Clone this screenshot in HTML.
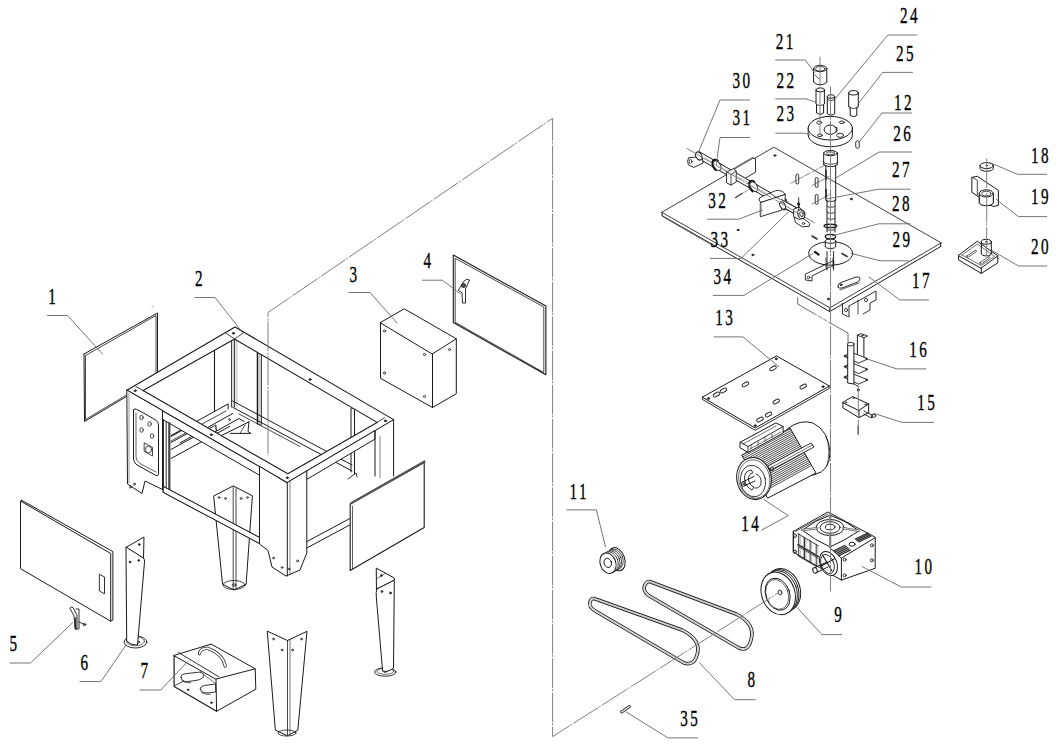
<!DOCTYPE html>
<html><head><meta charset="utf-8"><style>
html,body{margin:0;padding:0;background:#fff;overflow:hidden;}
svg{display:block;}
text{font-family:"Liberation Serif",serif;font-size:22.3px;fill:#000;letter-spacing:3.6px;stroke:#000;stroke-width:0.35px;}
</style></head><body>
<svg width="1056" height="745" viewBox="0 0 1056 745" stroke-linecap="round" stroke-linejoin="round">
<rect width="1056" height="745" fill="#fff"/>
<polyline points="84.0,354.0 157.5,313.0 157.5,371.5" stroke="#1a1a1a" stroke-width="1" fill="none" />
<polyline points="126.5,396.5 84.5,421.5 84.0,354.0" stroke="#1a1a1a" stroke-width="1" fill="none" />
<polyline points="85.5,355.5 156.0,315.5 156.0,372.3" stroke="#1a1a1a" stroke-width="0.8" fill="none" />
<polyline points="85.5,356.0 85.5,419.5 126.5,395.0" stroke="#1a1a1a" stroke-width="0.8" fill="none" />
<line x1="152.0" y1="307.0" x2="153.5" y2="306.3" stroke="#999" stroke-width="0.8" />
<polyline points="214.5,349.5 214.5,411.0" stroke="#1a1a1a" stroke-width="1.1" fill="none" />
<polyline points="231.6,340.0 231.6,407.0" stroke="#1a1a1a" stroke-width="0.9" fill="none" />
<polyline points="233.3,340.0 233.3,407.0" stroke="#777" stroke-width="0.5" fill="none" />
<polyline points="234.6,340.0 234.6,407.0" stroke="#1a1a1a" stroke-width="0.9" fill="none" />
<polyline points="236.8,341.0 236.8,407.0" stroke="#777" stroke-width="0.5" fill="none" />
<polyline points="257.4,351.7 257.4,423.8" stroke="#1a1a1a" stroke-width="1.3" fill="none" />
<polyline points="259.0,352.5 259.0,424.0" stroke="#555" stroke-width="0.6" fill="none" />
<polyline points="261.3,354.0 261.3,424.5" stroke="#1a1a1a" stroke-width="1" fill="none" />
<polyline points="257.4,423.8 261.3,425.5" stroke="#1a1a1a" stroke-width="0.8" fill="none" />
<polyline points="171.0,435.5 228.2,403.9 228.2,409.0" stroke="#1a1a1a" stroke-width="1" fill="none" />
<polyline points="171.0,441.0 226.0,411.0" stroke="#1a1a1a" stroke-width="0.8" fill="none" />
<polyline points="180.0,443.0 232.7,413.5" stroke="#1a1a1a" stroke-width="1" fill="none" />
<polyline points="232.7,401.0 352.0,465.0" stroke="#1a1a1a" stroke-width="1" fill="none" />
<polyline points="232.7,407.3 352.0,471.0" stroke="#1a1a1a" stroke-width="1" fill="none" />
<polyline points="239.0,414.0 300.0,446.5" stroke="#1a1a1a" stroke-width="0.8" fill="none" />
<polyline points="213.0,433.0 239.0,418.5 244.0,421.5" stroke="#1a1a1a" stroke-width="1" fill="none" />
<polyline points="219.0,436.8 248.6,422.0" stroke="#1a1a1a" stroke-width="1" fill="none" />
<polyline points="230.5,433.4 250.9,433.4 248.0,431.5 249.0,421.5" stroke="#1a1a1a" stroke-width="1" fill="none" />
<polyline points="240.0,433.4 245.0,425.0" stroke="#1a1a1a" stroke-width="0.7" fill="none" />
<polyline points="215.7,425.0 216.3,430.5" stroke="#1a1a1a" stroke-width="1.2" fill="none" />
<ellipse cx="229.5" cy="419.5" rx="0.8" ry="1.0" stroke="#1a1a1a" stroke-width="0.8" fill="none"/>
<polyline points="171.0,436.5 192.2,424.9" stroke="#1a1a1a" stroke-width="1" fill="none" />
<polyline points="171.0,442.5 202.4,425.3" stroke="#1a1a1a" stroke-width="1" fill="none" />
<polyline points="171.0,449.5 214.3,425.8" stroke="#1a1a1a" stroke-width="1" fill="none" />
<polyline points="171.0,458.5 229.7,426.4" stroke="#1a1a1a" stroke-width="1" fill="none" />
<polyline points="351.0,409.0 351.0,472.0" stroke="#1a1a1a" stroke-width="1" fill="none" />
<polyline points="354.5,407.5 354.5,474.0" stroke="#1a1a1a" stroke-width="1" fill="none" />
<polyline points="351.0,409.0 354.5,407.5 357.0,409.0" stroke="#1a1a1a" stroke-width="0.8" fill="none" />
<polyline points="348.0,479.0 356.0,473.0 357.0,477.0" stroke="#1a1a1a" stroke-width="0.9" fill="none" />
<path d="M126.8,390.3 L235.0,327.0 L393.6,419.6 L287.1,482.6 Z M143.1,390.6 L287.8,473.8 L377.1,422.4 L234.5,339.0 Z" stroke="#1a1a1a" stroke-width="1.1" fill="#fff" fill-rule="evenodd"/>
<polyline points="136.0,386.5 143.1,390.6" stroke="#1a1a1a" stroke-width="0.9" fill="none" />
<polyline points="226.0,333.3 234.6,338.9 243.0,333.3" stroke="#1a1a1a" stroke-width="0.8" fill="none" />
<polyline points="377.1,422.4 384.5,417.8" stroke="#1a1a1a" stroke-width="0.8" fill="none" />
<polygon points="162.5,410.9 259.5,466.7 259.5,475.2 162.5,419.4" stroke="#1a1a1a" stroke-width="1" fill="#fff" />
<polygon points="306.8,470.9 375.0,430.6 375.0,439.1 306.8,479.4" stroke="#1a1a1a" stroke-width="1" fill="#fff" />
<polygon points="126.8,390.3 127.5,484.0 142.0,493.5 145.0,481.0 162.5,489.5 162.5,410.9" stroke="#1a1a1a" stroke-width="1" fill="#fff" />
<polyline points="129.0,393.0 129.0,483.0" stroke="#555" stroke-width="0.6" fill="none" />
<path d="M133.5,410 L133.5,458 Q133.5,463 138,465.5 L156,475.5 Q158.5,476.5 158.5,473 L158.5,426 Q158.5,421 154,419 L139,410.5 Q133.5,407.5 133.5,410 Z" stroke="#1a1a1a" stroke-width="1" fill="none" />
<path d="M136,413 L136,457 Q136,461 140,463.5 L156,472" stroke="#1a1a1a" stroke-width="0.7" fill="none" />
<ellipse cx="141.5" cy="417.5" rx="1.7" ry="2.3" stroke="#1a1a1a" stroke-width="0.8" fill="none"/>
<ellipse cx="149.5" cy="424.0" rx="1.7" ry="2.3" stroke="#1a1a1a" stroke-width="0.8" fill="none"/>
<ellipse cx="141.5" cy="430.0" rx="1.7" ry="2.3" stroke="#1a1a1a" stroke-width="0.8" fill="none"/>
<ellipse cx="152.0" cy="436.0" rx="1.7" ry="2.3" stroke="#1a1a1a" stroke-width="0.8" fill="none"/>
<polygon points="144.5,443.0 152.5,447.5 152.5,456.0 144.5,451.5" stroke="#1a1a1a" stroke-width="0.8" fill="none" />
<ellipse cx="148.5" cy="449.5" rx="3.0" ry="3.6" stroke="#1a1a1a" stroke-width="0.8" fill="none"/>
<ellipse cx="130.5" cy="487.0" rx="0.9" ry="0.9" stroke="#1a1a1a" stroke-width="0.8" fill="none"/>
<ellipse cx="134.5" cy="484.0" rx="0.9" ry="0.9" stroke="#1a1a1a" stroke-width="0.8" fill="none"/>
<polyline points="163.5,419.9 163.5,490.0" stroke="#1a1a1a" stroke-width="0.9" fill="none" />
<polyline points="166.2,421.4 166.2,491.0" stroke="#1a1a1a" stroke-width="0.9" fill="none" />
<polyline points="169.3,423.1 169.3,492.5" stroke="#444" stroke-width="2.2" fill="none" />
<polygon points="214.0,495.8 233.2,485.9 252.4,495.8 246.1,584.4 234.0,590.0 222.9,584.4" stroke="#1a1a1a" stroke-width="1" fill="#fff" />
<polyline points="233.2,487.0 233.2,589.0" stroke="#1a1a1a" stroke-width="0.8" fill="none" />
<polyline points="236.0,488.5 236.0,589.0" stroke="#1a1a1a" stroke-width="0.8" fill="none" />
<ellipse cx="234.0" cy="585.0" rx="11.0" ry="4.5" stroke="#1a1a1a" stroke-width="0.8" fill="none"/>
<ellipse cx="234.0" cy="585.0" rx="2.0" ry="1.1" stroke="#1a1a1a" stroke-width="0.8" fill="none"/>
<ellipse cx="219.0" cy="497.5" rx="0.9" ry="0.9" stroke="#1a1a1a" stroke-width="0.8" fill="none"/>
<ellipse cx="225.5" cy="498.5" rx="0.9" ry="0.9" stroke="#1a1a1a" stroke-width="0.8" fill="none"/>
<ellipse cx="241.0" cy="498.5" rx="0.9" ry="0.9" stroke="#1a1a1a" stroke-width="0.8" fill="none"/>
<ellipse cx="247.5" cy="497.5" rx="0.9" ry="0.9" stroke="#1a1a1a" stroke-width="0.8" fill="none"/>
<polygon points="163.5,486.5 259.5,537.5 259.5,543.5 163.5,492.5" stroke="#1a1a1a" stroke-width="1" fill="#fff" />
<polygon points="163.5,486.5 259.5,537.5 259.5,543.5 163.5,492.5" stroke="#1a1a1a" stroke-width="1" fill="#fff" />
<polygon points="259.5,466.7 259.5,544.0 268.0,550.5 272.0,567.0 286.0,576.0 300.0,570.0 306.8,553.0 306.8,470.9 287.1,482.6" stroke="#1a1a1a" stroke-width="1" fill="#fff" />
<polyline points="287.3,482.6 287.3,576.0" stroke="#1a1a1a" stroke-width="1" fill="none" />
<polyline points="290.0,481.0 290.0,575.0" stroke="#555" stroke-width="0.7" fill="none" />
<ellipse cx="273.5" cy="558.0" rx="0.9" ry="0.9" stroke="#1a1a1a" stroke-width="0.8" fill="none"/>
<ellipse cx="282.0" cy="567.5" rx="0.9" ry="0.9" stroke="#1a1a1a" stroke-width="0.8" fill="none"/>
<ellipse cx="289.0" cy="569.0" rx="0.9" ry="0.9" stroke="#1a1a1a" stroke-width="0.8" fill="none"/>
<ellipse cx="297.5" cy="561.0" rx="0.9" ry="0.9" stroke="#1a1a1a" stroke-width="0.8" fill="none"/>
<polyline points="375.0,430.6 375.0,476.0" stroke="#1a1a1a" stroke-width="1" fill="none" />
<polyline points="393.6,419.6 393.6,476.0" stroke="#1a1a1a" stroke-width="1" fill="none" />
<polyline points="380.0,436.1 380.0,478.0" stroke="#555" stroke-width="0.7" fill="none" />
<polyline points="306.8,541.6 349.7,518.6" stroke="#1a1a1a" stroke-width="1" fill="none" />
<polyline points="306.8,548.0 349.7,525.0" stroke="#1a1a1a" stroke-width="1" fill="none" />
<ellipse cx="135.2" cy="390.7" rx="1.1" ry="0.8" stroke="#1a1a1a" stroke-width="0.9" fill="#333"/>
<ellipse cx="233.4" cy="333.3" rx="1.1" ry="0.8" stroke="#1a1a1a" stroke-width="0.9" fill="#333"/>
<ellipse cx="385.4" cy="420.9" rx="1.1" ry="0.8" stroke="#1a1a1a" stroke-width="0.9" fill="#333"/>
<ellipse cx="287.2" cy="477.8" rx="1.1" ry="0.8" stroke="#1a1a1a" stroke-width="0.9" fill="#333"/>
<ellipse cx="211.3" cy="434.7" rx="1.1" ry="0.8" stroke="#1a1a1a" stroke-width="0.9" fill="#333"/>
<ellipse cx="310.0" cy="379.5" rx="1.1" ry="0.8" stroke="#1a1a1a" stroke-width="0.9" fill="#333"/>
<polygon points="380.5,322.5 404.3,308.8 456.3,338.8 432.5,353.8" stroke="#1a1a1a" stroke-width="1" fill="none" />
<polyline points="380.5,322.5 380.5,378.3 432.5,407.5 456.3,393.8 456.3,338.8" stroke="#1a1a1a" stroke-width="1" fill="none" />
<line x1="432.5" y1="353.8" x2="432.5" y2="407.5" stroke="#1a1a1a" stroke-width="1" />
<ellipse cx="384.5" cy="331.0" rx="1.1" ry="1.1" stroke="#1a1a1a" stroke-width="0.8" fill="none"/>
<ellipse cx="424.5" cy="354.5" rx="1.1" ry="1.1" stroke="#1a1a1a" stroke-width="0.8" fill="none"/>
<ellipse cx="384.5" cy="373.0" rx="1.1" ry="1.1" stroke="#1a1a1a" stroke-width="0.8" fill="none"/>
<ellipse cx="424.5" cy="396.5" rx="1.1" ry="1.1" stroke="#1a1a1a" stroke-width="0.8" fill="none"/>
<ellipse cx="449.5" cy="349.5" rx="1.1" ry="1.1" stroke="#1a1a1a" stroke-width="0.8" fill="none"/>
<polygon points="453.3,255.1 545.9,306.0 545.9,374.8 453.3,322.5" stroke="#1a1a1a" stroke-width="1.1" fill="none" />
<polygon points="455.5,258.5 543.8,307.0 543.8,372.5 455.5,322.5" stroke="#1a1a1a" stroke-width="0.8" fill="none" />
<path d="M458.5,290 L464,281 Q467,278 469.5,280 L465.5,289 L465.5,303 L462.5,303 L462,293 Z" stroke="#1a1a1a" stroke-width="0.9" fill="none" />
<ellipse cx="463.5" cy="285.5" rx="2.0" ry="2.0" stroke="#1a1a1a" stroke-width="0.9" fill="#555"/>
<polygon points="350.2,504.1 424.2,462.5 424.2,527.6 350.2,570.4" stroke="#1a1a1a" stroke-width="1.1" fill="#fff" />
<polyline points="351.5,503.0 424.5,461.5" stroke="#555" stroke-width="2.2" fill="none" />
<polyline points="352.5,506.0 352.5,569.0" stroke="#1a1a1a" stroke-width="0.7" fill="none" />
<polygon points="267.6,631.3 287.5,640.5 307.0,631.3 297.8,730.2 287.5,735.8 275.7,730.2" stroke="#1a1a1a" stroke-width="1" fill="none" />
<polyline points="287.5,640.5 287.5,735.0" stroke="#1a1a1a" stroke-width="0.8" fill="none" />
<polyline points="290.0,639.5 290.0,735.0" stroke="#1a1a1a" stroke-width="0.6" fill="none" />
<ellipse cx="287.0" cy="733.0" rx="9.0" ry="3.0" stroke="#1a1a1a" stroke-width="0.8" fill="none"/>
<ellipse cx="273.5" cy="639.0" rx="0.9" ry="0.9" stroke="#1a1a1a" stroke-width="0.8" fill="none"/>
<ellipse cx="282.0" cy="650.0" rx="0.9" ry="0.9" stroke="#1a1a1a" stroke-width="0.8" fill="none"/>
<ellipse cx="292.5" cy="650.0" rx="0.9" ry="0.9" stroke="#1a1a1a" stroke-width="0.8" fill="none"/>
<ellipse cx="301.5" cy="639.0" rx="0.9" ry="0.9" stroke="#1a1a1a" stroke-width="0.8" fill="none"/>
<ellipse cx="385.3" cy="672.0" rx="10.7" ry="4.2" stroke="#1a1a1a" stroke-width="0.9" fill="#fff"/>
<ellipse cx="385.3" cy="671.3" rx="8.5" ry="3.0" stroke="#1a1a1a" stroke-width="0.6" fill="none"/>
<ellipse cx="385.3" cy="671.5" rx="1.5" ry="1.0" stroke="#1a1a1a" stroke-width="0.8" fill="none"/>
<polygon points="376.6,568.3 394.3,578.0 394.3,580.2 376.8,589.0" stroke="#1a1a1a" stroke-width="1" fill="#fff" />
<path d="M376.8,589 L394.3,580.2 L393.5,668 Q390,671 386,671.5 L382.6,671 L376.3,597 Q375.8,592 376.8,589 Z" stroke="#1a1a1a" stroke-width="1" fill="#fff" />
<polyline points="376.6,578.5 385.4,573.4" stroke="#1a1a1a" stroke-width="0.6" fill="none" />
<ellipse cx="381.4" cy="575.6" rx="0.8" ry="1.0" stroke="#1a1a1a" stroke-width="0.8" fill="#333"/>
<ellipse cx="381.9" cy="591.5" rx="0.8" ry="1.0" stroke="#1a1a1a" stroke-width="0.8" fill="#333"/>
<ellipse cx="390.5" cy="593.0" rx="0.8" ry="1.0" stroke="#1a1a1a" stroke-width="0.8" fill="#333"/>
<ellipse cx="135.5" cy="642.0" rx="11.4" ry="6.0" stroke="#1a1a1a" stroke-width="0.9" fill="#fff"/>
<ellipse cx="135.5" cy="641.3" rx="9.0" ry="4.5" stroke="#1a1a1a" stroke-width="0.6" fill="none"/>
<ellipse cx="138.5" cy="642.0" rx="1.2" ry="0.9" stroke="#1a1a1a" stroke-width="0.8" fill="none"/>
<polygon points="126.3,547.2 144.0,537.0 143.5,558.0" stroke="#1a1a1a" stroke-width="1" fill="#fff" />
<path d="M126.3,547.2 L143.5,558 Q144.8,559.5 144.5,562 L137.5,645 Q132,646 127,641.5 Z" stroke="#1a1a1a" stroke-width="1" fill="#fff" />
<ellipse cx="139.2" cy="544.5" rx="0.8" ry="1.0" stroke="#1a1a1a" stroke-width="0.8" fill="#333"/>
<ellipse cx="130.0" cy="562.0" rx="0.8" ry="1.0" stroke="#1a1a1a" stroke-width="0.8" fill="#333"/>
<ellipse cx="138.7" cy="560.4" rx="0.8" ry="1.0" stroke="#1a1a1a" stroke-width="0.8" fill="#333"/>
<polygon points="20.5,501.4 20.5,568.7 110.7,621.2 110.7,553.9" stroke="#1a1a1a" stroke-width="1" fill="none" />
<polyline points="21.7,500.3 112.9,551.6 112.9,620.0 110.7,621.2" stroke="#1a1a1a" stroke-width="1" fill="none" />
<polyline points="20.5,501.4 21.7,500.3" stroke="#1a1a1a" stroke-width="1" fill="none" />
<polygon points="99.7,574.4 104.5,577.0 104.5,593.8 99.7,591.2" stroke="#1a1a1a" stroke-width="0.9" fill="none" />
<path d="M70,608 Q71,606 73,607.5 L77,615 L77,628 Q76.5,630 75,629 L74,616 Z" stroke="#1a1a1a" stroke-width="0.9" fill="none" />
<path d="M76,609 L79,609 L79,629 L76,629" stroke="#1a1a1a" stroke-width="0.9" fill="none" />
<line x1="79.0" y1="622.0" x2="84.5" y2="624.5" stroke="#1a1a1a" stroke-width="0.9" />
<ellipse cx="84.5" cy="624.5" rx="1.3" ry="1.3" stroke="#1a1a1a" stroke-width="0.8" fill="none"/>
<line x1="75.5" y1="618.0" x2="75.5" y2="628.0" stroke="#333" stroke-width="1.6" />
<polygon points="174.1,655.4 211.2,644.1 255.2,668.8 216.0,679.0" stroke="#1a1a1a" stroke-width="1" fill="#fff" />
<polyline points="216.0,679.0 216.6,711.3 255.8,689.2 255.2,668.8" stroke="#1a1a1a" stroke-width="1" fill="none" />
<polyline points="174.1,655.4 174.1,686.6 216.6,711.3" stroke="#1a1a1a" stroke-width="1.2" fill="none" />
<polyline points="178.4,652.5 218.7,676.7" stroke="#1a1a1a" stroke-width="0.9" fill="none" />
<polyline points="175.2,685.5 200.4,672.1" stroke="#1a1a1a" stroke-width="0.8" fill="none" />
<polyline points="200.4,672.1 215.5,683.3" stroke="#1a1a1a" stroke-width="0.6" fill="none" />
<path d="M181.1,677.4 Q180.0,674.7 185.4,673.7 L199.4,672.1 Q204.7,672.6 203.1,677.4 Q200.4,680.1 195.1,680.6 L186.5,681.7 Q181.6,681.2 181.1,677.4 Z" stroke="#1a1a1a" stroke-width="0.9" fill="#fff" />
<path d="M181.6,680.1 Q183.3,682.8 190.8,682.8" stroke="#1a1a1a" stroke-width="0.7" fill="none" />
<path d="M200.4,689.2 Q199.4,686.6 204.7,685.5 L215.5,683.9 L215.7,691.9 L208.0,693.0 Q201.0,693.0 200.4,689.2 Z" stroke="#1a1a1a" stroke-width="0.9" fill="#fff" />
<path d="M201.0,691.9 Q202.6,694.6 210.1,694.3" stroke="#1a1a1a" stroke-width="0.7" fill="none" />
<ellipse cx="188.1" cy="689.8" rx="0.8" ry="0.8" stroke="#1a1a1a" stroke-width="0.8" fill="#333"/>
<ellipse cx="211.4" cy="702.7" rx="0.8" ry="0.8" stroke="#1a1a1a" stroke-width="0.8" fill="#333"/>
<path d="M199.4,653.8 Q200.4,647.9 208.0,648.4 Q223.0,653.8 225.2,666.1" stroke="#333" stroke-width="3.2" fill="none" />
<path d="M199.4,653.8 Q200.4,647.9 208.0,648.4 Q223.0,653.8 225.2,666.1" stroke="#fff" stroke-width="1.6" fill="none" />
<polyline points="797.7,297.7 797.7,304.1 813.0,313.0" stroke="#444" stroke-width="0.8" fill="none" />
<polyline points="830.3,323.0 848.0,333.1 848.0,342.4" stroke="#444" stroke-width="0.8" fill="none" />
<polyline points="842.5,303.4 842.5,314.0 849.0,317.0 849.0,306.0" stroke="#1a1a1a" stroke-width="0.9" fill="none" />
<polyline points="849.0,306.0 876.0,291.0 876.0,300.0 870.0,303.0 870.0,310.0 863.0,314.0" stroke="#1a1a1a" stroke-width="0.9" fill="none" />
<ellipse cx="846.0" cy="310.0" rx="1.5" ry="1.8" stroke="#1a1a1a" stroke-width="0.8" fill="none"/>
<ellipse cx="866.0" cy="300.0" rx="1.5" ry="1.8" stroke="#1a1a1a" stroke-width="0.8" fill="none"/>
<polyline points="858.0,300.0 858.0,314.0" stroke="#1a1a1a" stroke-width="0.8" fill="none" />
<polygon points="773.5,147.4 661.8,212.3 829.8,307.8 940.9,243.1" stroke="#2a2a2a" stroke-width="0.9" fill="#fff" />
<polyline points="662.3,215.8 829.8,311.6 940.6,246.6" stroke="#1a1a1a" stroke-width="1" fill="none" />
<line x1="661.8" y1="212.3" x2="662.3" y2="215.8" stroke="#1a1a1a" stroke-width="1" />
<line x1="940.9" y1="243.1" x2="940.6" y2="246.6" stroke="#1a1a1a" stroke-width="1" />
<line x1="829.8" y1="307.8" x2="829.8" y2="311.6" stroke="#1a1a1a" stroke-width="1" />
<polyline points="664.0,217.5 711.7,245.0" stroke="#555" stroke-width="0.7" fill="none" />
<ellipse cx="830.7" cy="253.4" rx="22.0" ry="11.8" stroke="#1a1a1a" stroke-width="1" fill="none"/>
<polyline points="826.0,258.0 826.0,268.0" stroke="#1a1a1a" stroke-width="0.8" fill="none" />
<polyline points="833.0,258.0 833.0,268.0" stroke="#1a1a1a" stroke-width="0.8" fill="none" />
<polygon points="805.7,274.0 833.7,260.5 833.7,265.0 812.0,276.0 812.0,281.0 805.7,280.0" stroke="#1a1a1a" stroke-width="0.9" fill="none" />
<ellipse cx="808.5" cy="277.5" rx="1.3" ry="1.3" stroke="#1a1a1a" stroke-width="0.8" fill="none"/>
<path d="M838,287 Q837,284 841,282.5 L856,277 Q860,276 860,279 Q860,281 857,282.3 L842,288 Q838.5,289 838,287 Z" stroke="#1a1a1a" stroke-width="0.9" fill="none" />
<path d="M840,290 L859,283" stroke="#1a1a1a" stroke-width="0.7" fill="none" />
<ellipse cx="774.9" cy="155.5" rx="1.1" ry="0.8" stroke="#1a1a1a" stroke-width="0.8" fill="#333"/>
<ellipse cx="851.3" cy="199.0" rx="1.1" ry="0.8" stroke="#1a1a1a" stroke-width="0.8" fill="#333"/>
<ellipse cx="752.8" cy="254.9" rx="1.1" ry="0.8" stroke="#1a1a1a" stroke-width="0.8" fill="#333"/>
<ellipse cx="828.4" cy="299.0" rx="1.1" ry="0.8" stroke="#1a1a1a" stroke-width="0.8" fill="#333"/>
<ellipse cx="841.0" cy="284.8" rx="1.1" ry="0.8" stroke="#1a1a1a" stroke-width="0.8" fill="#333"/>
<ellipse cx="738.0" cy="230.0" rx="1.1" ry="0.8" stroke="#1a1a1a" stroke-width="0.8" fill="#333"/>
<path d="M795.9,175.5 Q795.9,174 797.3,174 Q798.6999999999999,174 798.6999999999999,175.5 L798.6999999999999,182.5 Q798.6999999999999,184 797.3,184 Q795.9,184 795.9,182.5 Z" stroke="#1a1a1a" stroke-width="0.9" fill="none" />
<path d="M815.2,179.0 Q815.2,177.5 816.6,177.5 Q818.0,177.5 818.0,179.0 L818.0,186.0 Q818.0,187.5 816.6,187.5 Q815.2,187.5 815.2,186.0 Z" stroke="#1a1a1a" stroke-width="0.9" fill="none" />
<path d="M815.2,195.9 Q815.2,194.4 816.6,194.4 Q818.0,194.4 818.0,195.9 L818.0,202.9 Q818.0,204.4 816.6,204.4 Q815.2,204.4 815.2,202.9 Z" stroke="#1a1a1a" stroke-width="0.9" fill="none" />
<line x1="791.0" y1="183.2" x2="824.3" y2="165.5" stroke="#555" stroke-width="0.7" stroke-dasharray="6 2"/>
<line x1="812.0" y1="185.5" x2="829.0" y2="176.3" stroke="#555" stroke-width="0.7" />
<line x1="812.0" y1="204.0" x2="829.0" y2="194.8" stroke="#555" stroke-width="0.7" />
<polyline points="733.0,169.8 753.1,158.1 755.5,158.9 755.5,172.2 745.9,177.9" stroke="#1a1a1a" stroke-width="0.9" fill="#fff" />
<polyline points="733.5,168.8 753.1,157.3" stroke="#777" stroke-width="1.3" fill="none" />
<polygon points="699,151.5 803,211.5 801,217.6 697,157.6" fill="#fff" stroke="none"/>
<polyline points="699.0,151.5 803.0,211.5" stroke="#1a1a1a" stroke-width="1" fill="none" />
<polyline points="697.0,157.6 801.0,217.6" stroke="#1a1a1a" stroke-width="1" fill="none" />
<polyline points="705.0,158.0 795.0,209.9" stroke="#888" stroke-width="0.5" fill="none" />
<path d="M688.5,158 Q686.5,161 688.5,165 L694,167.4 L703.1,163 L702,157 Z" stroke="#1a1a1a" stroke-width="0.9" fill="#fff" />
<ellipse cx="690.5" cy="161.5" rx="1.5" ry="2.0" stroke="#1a1a1a" stroke-width="0.8" fill="none"/>
<ellipse cx="698.8" cy="156.0" rx="2.8" ry="4.3" stroke="#1a1a1a" stroke-width="1" fill="#fff" transform="rotate(-30 698.8 156.0)"/>
<ellipse cx="717.2" cy="165.6" rx="3.2" ry="5.3" stroke="#1a1a1a" stroke-width="0.9" fill="#fff" transform="rotate(-30 717.2 165.6)"/>
<path d="M717.9,160.79999999999998 A3.2,5.3 -30 0 0 715.9,170.4" stroke="#111" stroke-width="1.8" fill="none" />
<ellipse cx="753.9" cy="186.7" rx="3.2" ry="5.3" stroke="#1a1a1a" stroke-width="0.9" fill="#fff" transform="rotate(-30 753.9 186.7)"/>
<path d="M754.6,181.89999999999998 A3.2,5.3 -30 0 0 752.6,191.5" stroke="#111" stroke-width="1.8" fill="none" />
<ellipse cx="785.3" cy="204.8" rx="3.2" ry="5.3" stroke="#1a1a1a" stroke-width="0.9" fill="#fff" transform="rotate(-30 785.3 204.8)"/>
<path d="M786.0,200.0 A3.2,5.3 -30 0 0 784.0,209.60000000000002" stroke="#111" stroke-width="1.8" fill="none" />
<polygon points="726.9,172.0 733.5,168.5 736.2,171.0 736.2,182.0 731.0,185.1 726.9,183.0" stroke="#1a1a1a" stroke-width="0.9" fill="#fff" />
<polyline points="726.9,172.0 731.0,174.5 736.2,171.0" stroke="#1a1a1a" stroke-width="0.8" fill="none" />
<line x1="731.0" y1="174.5" x2="731.0" y2="185.1" stroke="#1a1a1a" stroke-width="0.8" />
<polygon points="760.7,202.1 785.2,194.0 785.2,200.1 781.5,210.2 760.7,216.6" stroke="#1a1a1a" stroke-width="0.9" fill="#fff" />
<path d="M760.7,202.1 L759.1,200 Q758.8,197.5 762,196.5 L775.5,190.7 Q782,189.5 785.2,194 Z" stroke="#1a1a1a" stroke-width="0.9" fill="#fff" />
<polyline points="770.0,193.4 779.5,199.3" stroke="#1a1a1a" stroke-width="0.8" fill="none" />
<polyline points="760.7,205.0 760.7,214.0" stroke="#777" stroke-width="1.6" fill="none" />
<polygon points="781,198.8 797,208.1 796,214.7 782,206.6" fill="#fff" stroke="none"/>
<polyline points="781.0,199.3 797.0,208.1" stroke="#1a1a1a" stroke-width="1" fill="none" />
<polyline points="782.0,206.6 796.0,214.7" stroke="#1a1a1a" stroke-width="1" fill="none" />
<ellipse cx="782.6" cy="205.5" rx="2.5" ry="4.0" stroke="#1a1a1a" stroke-width="1" fill="#fff" transform="rotate(-30 782.6 205.5)"/>
<polygon points="794.2,217.6 795.5,222.5 802.3,226.8 809.2,226.3 809.7,223.3 804.6,219.3" stroke="#1a1a1a" stroke-width="0.9" fill="#fff" />
<ellipse cx="803.5" cy="223.5" rx="1.3" ry="0.9" stroke="#1a1a1a" stroke-width="0.8" fill="none"/>
<polygon points="794.0,209.0 799.0,207.0 805.0,212.5 804.4,218.0 799.0,219.5 794.0,216.8" stroke="#1a1a1a" stroke-width="0.9" fill="#fff" />
<ellipse cx="801.2" cy="214.2" rx="3.3" ry="4.6" stroke="#1a1a1a" stroke-width="1" fill="#fff" transform="rotate(-25 801.2 214.2)"/>
<ellipse cx="801.4" cy="214.3" rx="1.7" ry="2.5" stroke="#1a1a1a" stroke-width="0.8" fill="none" transform="rotate(-25 801.4 214.3)"/>
<line x1="798.7" y1="197.8" x2="798.7" y2="209.5" stroke="#1a1a1a" stroke-width="0.9" />
<polygon points="797.6,203.5 798.7,207.0 799.8,203.5" stroke="#1a1a1a" stroke-width="0.9" fill="#222" />
<line x1="735.5" y1="197.5" x2="742.0" y2="193.5" stroke="#333" stroke-width="1.4" />
<line x1="742.0" y1="193.5" x2="752.0" y2="188.0" stroke="#666" stroke-width="0.6" />
<polyline points="827.0,251.6 827.0,270.0" stroke="#1a1a1a" stroke-width="0.9" fill="none" />
<polyline points="833.6,251.6 833.6,270.0" stroke="#1a1a1a" stroke-width="0.9" fill="none" />
<polyline points="825.3,241.2 825.3,246.4" stroke="#1a1a1a" stroke-width="1" fill="none" />
<polyline points="835.7,241.2 835.7,246.4" stroke="#1a1a1a" stroke-width="1" fill="none" />
<ellipse cx="830.5" cy="241.2" rx="5.2" ry="2.1" stroke="#1a1a1a" stroke-width="1" fill="#fff"/>
<path d="M825.3,246.4 A5.2,2.1 0 0 0 835.7,246.4" stroke="#1a1a1a" stroke-width="1" fill="none" />
<ellipse cx="830.5" cy="236.5" rx="5.2" ry="2.2" stroke="#1a1a1a" stroke-width="1.3" fill="none"/>
<polyline points="827.0,200.2 827.0,232.0" stroke="#1a1a1a" stroke-width="1" fill="none" />
<polyline points="835.0,200.2 835.0,232.0" stroke="#1a1a1a" stroke-width="1" fill="none" />
<path d="M827,206 A4,1.3 0 0 0 835,206" stroke="#1a1a1a" stroke-width="0.8" fill="none" />
<path d="M827,212 A4,1.3 0 0 0 835,212" stroke="#1a1a1a" stroke-width="0.8" fill="none" />
<path d="M827,218 A4,1.3 0 0 0 835,218" stroke="#1a1a1a" stroke-width="0.8" fill="none" />
<path d="M827,229 A4,1.3 0 0 0 835,229" stroke="#1a1a1a" stroke-width="0.8" fill="none" />
<ellipse cx="830.4" cy="225.9" rx="6.3" ry="1.6" stroke="#222" stroke-width="1.4" fill="none"/>
<polyline points="825.8,165.3 825.8,200.2" stroke="#1a1a1a" stroke-width="1" fill="none" />
<polyline points="835.7,165.3 835.7,200.2" stroke="#1a1a1a" stroke-width="1" fill="none" />
<path d="M825.8,200.2 A5,1.5 0 0 0 835.7,200.2" stroke="#1a1a1a" stroke-width="0.9" fill="none" />
<polyline points="826.0,170.5 826.0,179.2" stroke="#333" stroke-width="1.8" fill="none" />
<polyline points="826.0,189.7 826.0,197.6" stroke="#333" stroke-width="1.8" fill="none" />
<polyline points="823.7,153.1 823.7,164.4" stroke="#1a1a1a" stroke-width="1" fill="none" />
<polyline points="837.4,153.1 837.4,164.4" stroke="#1a1a1a" stroke-width="1" fill="none" />
<path d="M823.7,164.4 A6.85,2.2 0 0 0 837.4,164.4" stroke="#1a1a1a" stroke-width="1" fill="none" />
<path d="M823,161.8 A7.5,2.4 0 0 0 838,161.8" stroke="#1a1a1a" stroke-width="0.8" fill="none" />
<ellipse cx="830.5" cy="153.1" rx="6.8" ry="2.6" stroke="#1a1a1a" stroke-width="1" fill="#fff"/>
<ellipse cx="830.5" cy="153.3" rx="4.0" ry="1.5" stroke="#1a1a1a" stroke-width="0.8" fill="none"/>
<polyline points="812.0,236.0 817.0,239.0" stroke="#333" stroke-width="1.6" fill="none" />
<polyline points="842.0,253.5 847.0,256.5" stroke="#333" stroke-width="1.6" fill="none" />
<polyline points="815.0,252.0 818.5,254.5" stroke="#222" stroke-width="2.2" fill="none" />
<path d="M808.2,128.2 L808.2,134.9 A22.1,11.8 0 0 0 852.4,134.9 L852.4,128.2" stroke="#1a1a1a" stroke-width="1" fill="#fff" />
<ellipse cx="830.3" cy="128.2" rx="22.1" ry="11.8" stroke="#1a1a1a" stroke-width="1" fill="#fff"/>
<ellipse cx="830.3" cy="129.7" rx="6.2" ry="4.7" stroke="#1a1a1a" stroke-width="1" fill="none"/>
<path d="M835,127 L837,127.5 L837,131.5 L835.5,132" stroke="#1a1a1a" stroke-width="0.8" fill="none" />
<ellipse cx="819.2" cy="122.6" rx="2.5" ry="1.6" stroke="#1a1a1a" stroke-width="0.9" fill="none"/>
<ellipse cx="841.8" cy="122.3" rx="2.5" ry="1.3" stroke="#1a1a1a" stroke-width="0.9" fill="none"/>
<ellipse cx="819.9" cy="135.3" rx="2.5" ry="1.3" stroke="#1a1a1a" stroke-width="0.9" fill="none"/>
<ellipse cx="840.1" cy="135.3" rx="3.5" ry="2.0" stroke="#1a1a1a" stroke-width="0.9" fill="none"/>
<path d="M856,141.5 Q857.6,139.5 859.2,141.5 L859.2,147.5 Q857.6,149.5 856,147.5 Z" stroke="#1a1a1a" stroke-width="0.9" fill="none" />
<polyline points="813.6,68.5 813.6,81.7" stroke="#1a1a1a" stroke-width="1" fill="none" />
<polyline points="826.8,68.5 826.8,81.7" stroke="#1a1a1a" stroke-width="1" fill="none" />
<path d="M813.6,81.7 A6.6,3 0 0 0 826.8,81.7" stroke="#1a1a1a" stroke-width="1" fill="none" />
<ellipse cx="820.2" cy="68.5" rx="6.6" ry="3.2" stroke="#1a1a1a" stroke-width="1" fill="none"/>
<ellipse cx="820.2" cy="68.8" rx="4.6" ry="2.2" stroke="#1a1a1a" stroke-width="0.8" fill="none"/>
<line x1="815.0" y1="75.0" x2="819.0" y2="79.0" stroke="#1a1a1a" stroke-width="0.7" />
<polyline points="816.0,89.9 816.0,103.9 816.5,104.5 816.5,112.7" stroke="#1a1a1a" stroke-width="1" fill="none" />
<polyline points="824.4,89.9 824.4,103.9 823.6,104.5 823.6,112.7" stroke="#1a1a1a" stroke-width="1" fill="none" />
<ellipse cx="820.2" cy="89.9" rx="4.2" ry="2.0" stroke="#1a1a1a" stroke-width="1" fill="none"/>
<path d="M816.5,112.7 A3.55,1.5 0 0 0 823.6,112.7" stroke="#1a1a1a" stroke-width="1" fill="none" />
<path d="M816,103.9 A4.2,1.5 0 0 0 824.4,103.9" stroke="#1a1a1a" stroke-width="0.8" fill="none" />
<polyline points="827.3,96.5 827.3,113.5" stroke="#1a1a1a" stroke-width="1" fill="none" />
<polyline points="834.7,96.5 834.7,113.5" stroke="#1a1a1a" stroke-width="1" fill="none" />
<ellipse cx="831.0" cy="96.5" rx="3.7" ry="1.8" stroke="#1a1a1a" stroke-width="1" fill="none"/>
<path d="M827.3,113.5 A3.7,1.5 0 0 0 834.7,113.5" stroke="#1a1a1a" stroke-width="1" fill="none" />
<path d="M827.3,99 A3.7,1.5 0 0 0 834.7,99" stroke="#1a1a1a" stroke-width="0.8" fill="none" />
<polyline points="848.7,92.8 848.7,106.8 850.2,107.5 850.2,115.0" stroke="#1a1a1a" stroke-width="1" fill="none" />
<polyline points="858.3,92.8 858.3,106.8 856.8,107.5 856.8,115.0" stroke="#1a1a1a" stroke-width="1" fill="none" />
<ellipse cx="853.5" cy="92.8" rx="4.8" ry="2.2" stroke="#1a1a1a" stroke-width="1" fill="none"/>
<path d="M850.2,115 A3.3,1.5 0 0 0 856.8,115" stroke="#1a1a1a" stroke-width="1" fill="none" />
<path d="M848.7,106.8 A4.8,1.6 0 0 0 858.3,106.8" stroke="#1a1a1a" stroke-width="0.8" fill="none" />
<path d="M980.1,165.6 L980.1,168.3 A6.6,3 0 0 0 993.3,168.3 L993.3,165.6" stroke="#1a1a1a" stroke-width="1" fill="none" />
<ellipse cx="986.7" cy="165.6" rx="6.6" ry="3.0" stroke="#1a1a1a" stroke-width="1" fill="none"/>
<ellipse cx="986.7" cy="165.6" rx="0.8" ry="0.5" stroke="#1a1a1a" stroke-width="0.8" fill="#333"/>
<polygon points="972.2,177.3 977.3,176.3 998.4,190.4 998.4,205.5 993.0,206.5 972.2,192.5" stroke="#1a1a1a" stroke-width="1" fill="none" />
<polyline points="972.2,177.3 977.3,180.3 977.3,195.0" stroke="#1a1a1a" stroke-width="0.8" fill="none" />
<polyline points="977.3,180.3 998.4,194.0" stroke="#1a1a1a" stroke-width="0.0" fill="none" />
<polyline points="979.3,193.4 979.3,202.5" stroke="#1a1a1a" stroke-width="1" fill="none" />
<polyline points="993.3,193.4 993.3,202.5" stroke="#1a1a1a" stroke-width="1" fill="none" />
<path d="M979.3,202.5 A7,3.2 0 0 0 993.3,202.5" stroke="#1a1a1a" stroke-width="1" fill="#fff" />
<path d="M979.3,193.4 L979.3,202.5 A7,3.2 0 0 0 993.3,202.5 L993.3,193.4 Z" stroke="#1a1a1a" stroke-width="1" fill="#fff" />
<ellipse cx="986.3" cy="193.4" rx="7.0" ry="3.6" stroke="#1a1a1a" stroke-width="1" fill="#fff"/>
<ellipse cx="986.3" cy="193.6" rx="4.5" ry="2.3" stroke="#1a1a1a" stroke-width="0.8" fill="none"/>
<polygon points="958.5,255.3 977.3,241.2 997.8,255.9 981.3,268.0" stroke="#1a1a1a" stroke-width="1" fill="none" />
<polyline points="958.5,255.3 958.5,259.9 981.3,273.4 997.8,262.9 997.8,255.9" stroke="#1a1a1a" stroke-width="1" fill="none" />
<line x1="981.3" y1="268.0" x2="981.3" y2="273.4" stroke="#1a1a1a" stroke-width="1" />
<polyline points="962.0,255.0 977.3,244.0 994.5,256.3 981.3,265.5 962.0,255.0" stroke="#1a1a1a" stroke-width="0.6" fill="none" />
<path d="M966.8,256 L975,250.5 Q976.5,249.8 976.5,251.5 L968.5,257 Q966.5,258 966.8,256 Z" stroke="#1a1a1a" stroke-width="0.7" fill="none" />
<path d="M980,262.5 L988,257 Q990,256.3 989.5,258 L981.5,264 Q979.5,264.5 980,262.5 Z" stroke="#1a1a1a" stroke-width="0.7" fill="none" />
<polyline points="981.3,241.8 981.3,253.5" stroke="#1a1a1a" stroke-width="1" fill="none" />
<polyline points="991.3,241.8 991.3,253.5" stroke="#1a1a1a" stroke-width="1" fill="none" />
<path d="M981.3,253.5 A5,2.4 0 0 0 991.3,253.5" stroke="#1a1a1a" stroke-width="1" fill="none" />
<ellipse cx="986.3" cy="241.8" rx="5.0" ry="2.4" stroke="#1a1a1a" stroke-width="1" fill="#fff"/>
<ellipse cx="986.3" cy="241.8" rx="0.8" ry="0.5" stroke="#1a1a1a" stroke-width="0.8" fill="#333"/>
<polygon points="776.2,356.1 702.3,397.2 755.2,428.0 829.1,386.2" stroke="#1a1a1a" stroke-width="1" fill="#fff" />
<polyline points="702.3,397.2 702.5,399.5 755.2,430.3 829.1,388.5 829.1,386.2" stroke="#1a1a1a" stroke-width="0.9" fill="none" />
<rect x="769.5" y="366.7" width="7.0" height="3.2" rx="1.6" stroke="#1a1a1a" stroke-width="0.9" fill="none" transform="rotate(-28 773.0 368.3)"/>
<rect x="741.9" y="382.7" width="7.0" height="3.2" rx="1.6" stroke="#1a1a1a" stroke-width="0.9" fill="none" transform="rotate(-28 745.4 384.3)"/>
<rect x="799.7" y="384.9" width="7.0" height="3.2" rx="1.6" stroke="#1a1a1a" stroke-width="0.9" fill="none" transform="rotate(-28 803.2 386.5)"/>
<rect x="772.7" y="399.9" width="7.0" height="3.2" rx="1.6" stroke="#1a1a1a" stroke-width="0.9" fill="none" transform="rotate(-28 776.2 401.5)"/>
<rect x="713.0" y="392.9" width="7.0" height="3.2" rx="1.6" stroke="#1a1a1a" stroke-width="0.9" fill="none" transform="rotate(-28 716.5 394.5)"/>
<rect x="720.0" y="388.9" width="7.0" height="3.2" rx="1.6" stroke="#1a1a1a" stroke-width="0.9" fill="none" transform="rotate(-28 723.5 390.5)"/>
<rect x="756.5" y="417.9" width="7.0" height="3.2" rx="1.6" stroke="#1a1a1a" stroke-width="0.9" fill="none" transform="rotate(-28 760.0 419.5)"/>
<rect x="765.0" y="412.9" width="7.0" height="3.2" rx="1.6" stroke="#1a1a1a" stroke-width="0.9" fill="none" transform="rotate(-28 768.5 414.5)"/>
<ellipse cx="776.2" cy="358.8" rx="1.1" ry="0.9" stroke="#1a1a1a" stroke-width="0.8" fill="#333"/>
<ellipse cx="708.5" cy="398.5" rx="1.1" ry="0.9" stroke="#1a1a1a" stroke-width="0.8" fill="#333"/>
<ellipse cx="755.2" cy="425.6" rx="1.1" ry="0.9" stroke="#1a1a1a" stroke-width="0.8" fill="#333"/>
<ellipse cx="823.0" cy="386.7" rx="1.1" ry="0.9" stroke="#1a1a1a" stroke-width="0.8" fill="#333"/>
<polyline points="857.4,335.3 857.4,356.0" stroke="#1a1a1a" stroke-width="1" fill="none" />
<polyline points="863.9,337.7 863.9,358.0" stroke="#1a1a1a" stroke-width="1" fill="none" />
<polyline points="857.4,335.3 861.0,333.6 867.5,336.0 863.9,337.7 857.4,335.3" stroke="#1a1a1a" stroke-width="0.9" fill="none" />
<ellipse cx="862.3" cy="335.6" rx="0.9" ry="0.6" stroke="#1a1a1a" stroke-width="0.7" fill="none"/>
<polygon points="844.2,356.0 852.0,352.5 867.9,358.8 859.0,363.0" stroke="#1a1a1a" stroke-width="0.9" fill="#fff" />
<ellipse cx="845.5" cy="356.0" rx="0.8" ry="0.8" stroke="#1a1a1a" stroke-width="0.7" fill="none"/>
<ellipse cx="866.5" cy="358.8" rx="0.8" ry="0.8" stroke="#1a1a1a" stroke-width="0.7" fill="none"/>
<polygon points="844.2,366.5 852.0,363.0 867.9,369.3 859.0,373.5" stroke="#1a1a1a" stroke-width="0.9" fill="#fff" />
<ellipse cx="845.5" cy="366.5" rx="0.8" ry="0.8" stroke="#1a1a1a" stroke-width="0.7" fill="none"/>
<ellipse cx="866.5" cy="369.3" rx="0.8" ry="0.8" stroke="#1a1a1a" stroke-width="0.7" fill="none"/>
<polygon points="844.2,377.0 852.0,373.5 867.9,379.8 859.0,384.0" stroke="#1a1a1a" stroke-width="0.9" fill="#fff" />
<ellipse cx="845.5" cy="377.0" rx="0.8" ry="0.8" stroke="#1a1a1a" stroke-width="0.7" fill="none"/>
<ellipse cx="866.5" cy="379.8" rx="0.8" ry="0.8" stroke="#1a1a1a" stroke-width="0.7" fill="none"/>
<polygon points="847.7,345.0 847.7,383.0 853.9,384.0 853.9,345.8" stroke="#1a1a1a" stroke-width="1" fill="#fff" />
<ellipse cx="850.8" cy="344.2" rx="3.5" ry="1.8" stroke="#1a1a1a" stroke-width="0.9" fill="#fff"/>
<polyline points="853.9,384.0 858.5,386.5" stroke="#1a1a1a" stroke-width="0.9" fill="none" />
<polygon points="842.9,402.3 852.6,396.6 868.7,403.9 859.0,410.3" stroke="#1a1a1a" stroke-width="1" fill="none" />
<polyline points="842.9,402.3 842.9,407.9 859.0,417.6 868.7,412.7 868.7,403.9" stroke="#1a1a1a" stroke-width="1" fill="none" />
<line x1="859.0" y1="410.3" x2="859.0" y2="417.6" stroke="#1a1a1a" stroke-width="1" />
<ellipse cx="846.0" cy="402.5" rx="0.8" ry="0.6" stroke="#1a1a1a" stroke-width="0.7" fill="none"/>
<ellipse cx="853.5" cy="398.0" rx="0.8" ry="0.6" stroke="#1a1a1a" stroke-width="0.7" fill="none"/>
<ellipse cx="865.5" cy="404.5" rx="0.8" ry="0.6" stroke="#1a1a1a" stroke-width="0.7" fill="none"/>
<polyline points="863.9,411.0 873.0,415.5 871.5,418.0 863.9,414.0" stroke="#1a1a1a" stroke-width="0.9" fill="none" />
<ellipse cx="873.5" cy="415.8" rx="2.3" ry="1.6" stroke="#1a1a1a" stroke-width="0.9" fill="none"/>
<polyline points="858.3,426.0 858.3,434.0" stroke="#222" stroke-width="1.4" fill="none" />
<ellipse cx="858.3" cy="390.0" rx="0.9" ry="1.3" stroke="#1a1a1a" stroke-width="0.8" fill="#222"/>
<line x1="813.0" y1="313.0" x2="830.3" y2="323.0" stroke="#666" stroke-width="0.8" stroke-dasharray="4 2"/>
<path d="M788,428.5 Q800,419 813,423 Q829,431 830,453 Q829.5,471 815,474.5 L800,478 Z" stroke="#1a1a1a" stroke-width="1" fill="#fff" />
<path d="M826,436 Q831,450 827,466" stroke="#1a1a1a" stroke-width="0.6" fill="none" />
<clipPath id="mb"><polygon points="742,455 790,428 816,473 768,498"/></clipPath>
<polygon points="742,455 790,428 816,473 768,498" fill="#fff" stroke="#1a1a1a" stroke-width="1"/>
<g clip-path="url(#mb)"><line x1="735" y1="459.0" x2="830" y2="407.0" stroke="#222" stroke-width="0.8"/><line x1="735" y1="461.1" x2="830" y2="409.1" stroke="#222" stroke-width="0.8"/><line x1="735" y1="463.2" x2="830" y2="411.2" stroke="#222" stroke-width="0.8"/><line x1="735" y1="465.3" x2="830" y2="413.3" stroke="#222" stroke-width="0.8"/><line x1="735" y1="467.4" x2="830" y2="415.4" stroke="#222" stroke-width="0.8"/><line x1="735" y1="469.5" x2="830" y2="417.5" stroke="#222" stroke-width="0.8"/><line x1="735" y1="471.6" x2="830" y2="419.6" stroke="#222" stroke-width="0.8"/><line x1="735" y1="473.7" x2="830" y2="421.7" stroke="#222" stroke-width="0.8"/><line x1="735" y1="475.8" x2="830" y2="423.8" stroke="#222" stroke-width="0.8"/><line x1="735" y1="477.9" x2="830" y2="425.9" stroke="#222" stroke-width="0.8"/><line x1="735" y1="480.0" x2="830" y2="428.0" stroke="#222" stroke-width="0.8"/><line x1="735" y1="482.1" x2="830" y2="430.1" stroke="#222" stroke-width="0.8"/><line x1="735" y1="484.2" x2="830" y2="432.2" stroke="#222" stroke-width="0.8"/><line x1="735" y1="486.3" x2="830" y2="434.3" stroke="#222" stroke-width="0.8"/><line x1="735" y1="488.4" x2="830" y2="436.4" stroke="#222" stroke-width="0.8"/><line x1="735" y1="490.5" x2="830" y2="438.5" stroke="#222" stroke-width="0.8"/><line x1="735" y1="492.6" x2="830" y2="440.6" stroke="#222" stroke-width="0.8"/><line x1="735" y1="494.7" x2="830" y2="442.7" stroke="#222" stroke-width="0.8"/><line x1="735" y1="496.8" x2="830" y2="444.8" stroke="#222" stroke-width="0.8"/><line x1="735" y1="498.9" x2="830" y2="446.9" stroke="#222" stroke-width="0.8"/><line x1="735" y1="501.0" x2="830" y2="449.0" stroke="#222" stroke-width="0.8"/><line x1="735" y1="503.1" x2="830" y2="451.1" stroke="#222" stroke-width="0.8"/><line x1="735" y1="505.2" x2="830" y2="453.2" stroke="#222" stroke-width="0.8"/><line x1="735" y1="507.3" x2="830" y2="455.3" stroke="#222" stroke-width="0.8"/></g>
<polygon points="768.0,466.0 811.0,443.0 814.0,447.0 771.0,470.0" stroke="#1a1a1a" stroke-width="0.9" fill="#fff" />
<polyline points="770.5,468.0 812.5,445.0" stroke="#1a1a1a" stroke-width="0.6" fill="none" />
<ellipse cx="772.0" cy="469.0" rx="1.5" ry="2.0" stroke="#1a1a1a" stroke-width="0.8" fill="none"/>
<polygon points="740.3,442.2 775.9,422.9 783.1,426.5 783.1,433.1 748.1,452.4 740.3,448.0" stroke="#1a1a1a" stroke-width="1" fill="#fff" />
<polyline points="740.3,442.2 748.0,446.5 783.1,426.5" stroke="#1a1a1a" stroke-width="0.9" fill="none" />
<line x1="748.0" y1="446.5" x2="748.1" y2="452.4" stroke="#1a1a1a" stroke-width="0.9" />
<polyline points="743.0,444.0 776.0,426.0" stroke="#1a1a1a" stroke-width="0.6" fill="none" />
<polyline points="750.0,449.0 781.0,432.0" stroke="#1a1a1a" stroke-width="0.6" fill="none" />
<polyline points="751.0,445.5 751.0,449.0" stroke="#1a1a1a" stroke-width="0.6" fill="none" />
<polyline points="758.0,441.7 758.0,445.2" stroke="#1a1a1a" stroke-width="0.6" fill="none" />
<polyline points="765.0,437.9 765.0,441.4" stroke="#1a1a1a" stroke-width="0.6" fill="none" />
<polyline points="772.0,434.1 772.0,437.6" stroke="#1a1a1a" stroke-width="0.6" fill="none" />
<ellipse cx="754.0" cy="478.5" rx="17.2" ry="21.0" stroke="#1a1a1a" stroke-width="1" fill="#fff" transform="rotate(-12 754.0 478.5)"/>
<ellipse cx="754.3" cy="479.0" rx="15.6" ry="19.3" stroke="#1a1a1a" stroke-width="0.6" fill="none" transform="rotate(-12 754.3 479.0)"/>
<ellipse cx="753.0" cy="481.0" rx="12.5" ry="15.8" stroke="#1a1a1a" stroke-width="0.8" fill="none" transform="rotate(-12 753.0 481.0)"/>
<path d="M751,470 Q744,471 744.5,479 Q745.5,487 752,490 L754,487 Q749,485 748.5,479 Q748.5,474 752.5,473 Z" stroke="#1a1a1a" stroke-width="0.9" fill="none" />
<path d="M756,474 Q762,476 761,484 Q759,489 755,488" stroke="#1a1a1a" stroke-width="0.9" fill="none" />
<polyline points="742.5,482.0 754.0,476.5" stroke="#1a1a1a" stroke-width="1" fill="none" />
<polyline points="744.2,486.0 755.0,481.0" stroke="#1a1a1a" stroke-width="1" fill="none" />
<ellipse cx="743.3" cy="484.0" rx="1.8" ry="2.2" stroke="#1a1a1a" stroke-width="0.9" fill="#fff"/>
<ellipse cx="743.3" cy="484.0" rx="0.6" ry="0.7" stroke="#1a1a1a" stroke-width="0.6" fill="none"/>
<polyline points="753.0,498.0 755.0,500.0 758.0,499.0" stroke="#1a1a1a" stroke-width="0.9" fill="none" />
<polygon points="793.6,531.3 827.9,512.0 875.2,537.2 875.2,568.3 841.4,580.1 830.1,573.7 793.6,552.2" stroke="#1a1a1a" stroke-width="1" fill="#fff" />
<polyline points="830.1,547.9 841.4,558.1 875.2,537.7" stroke="#1a1a1a" stroke-width="1" fill="none" />
<polyline points="841.4,558.1 841.4,580.1" stroke="#1a1a1a" stroke-width="1" fill="none" />
<path d="M802.2,530.2 Q815.1,520.0 830.1,515.2 Q845.1,520.0 859.1,530.8 Q845.1,540.4 830.1,546.9 Q815.1,540.4 802.2,530.2 Z" stroke="#1a1a1a" stroke-width="1" fill="none" />
<path d="M795.7,531.3 L827.9,514.1" stroke="#1a1a1a" stroke-width="0.7" fill="none" />
<ellipse cx="830.1" cy="527.5" rx="14.0" ry="8.0" stroke="#1a1a1a" stroke-width="1" fill="none"/>
<ellipse cx="830.1" cy="527.5" rx="10.0" ry="5.8" stroke="#1a1a1a" stroke-width="0.9" fill="none"/>
<ellipse cx="830.1" cy="527.0" rx="4.8" ry="2.8" stroke="#1a1a1a" stroke-width="0.9" fill="none"/>
<polyline points="802.2,530.2 817.2,528.1" stroke="#555" stroke-width="2.2" fill="none" />
<polyline points="802.2,530.2 817.2,528.1" stroke="#fff" stroke-width="0.8" fill="none" />
<polyline points="843.0,528.1 859.1,530.8" stroke="#555" stroke-width="2.2" fill="none" />
<polyline points="843.0,528.1 859.1,530.8" stroke="#fff" stroke-width="0.8" fill="none" />
<polyline points="830.1,515.2 830.1,521.1" stroke="#555" stroke-width="2.2" fill="none" />
<polyline points="830.1,515.2 830.1,521.1" stroke="#fff" stroke-width="0.8" fill="none" />
<polyline points="830.1,534.0 830.1,546.9" stroke="#555" stroke-width="2.2" fill="none" />
<polyline points="830.1,534.0 830.1,546.9" stroke="#fff" stroke-width="0.8" fill="none" />
<polyline points="793.4,531.0 793.4,551.8" stroke="#1a1a1a" stroke-width="0.9" fill="none" />
<ellipse cx="795.0" cy="535.7" rx="1.4" ry="1.8" stroke="#1a1a1a" stroke-width="0.9" fill="none"/>
<ellipse cx="795.0" cy="551.8" rx="1.4" ry="1.8" stroke="#1a1a1a" stroke-width="0.9" fill="none"/>
<polyline points="798.0,533.7 818.2,545.8" stroke="#1a1a1a" stroke-width="0.9" fill="none" />
<polyline points="798.0,544.5 818.2,556.5" stroke="#333" stroke-width="1.6" fill="none" />
<polyline points="798.0,546.3 818.2,558.3" stroke="#1a1a1a" stroke-width="0.8" fill="none" />
<polyline points="798.0,555.9 816.8,566.6" stroke="#1a1a1a" stroke-width="0.9" fill="none" />
<polyline points="798.7,534.1 798.7,543.6" stroke="#333" stroke-width="1.0" fill="none" />
<polyline points="798.7,546.1 798.7,555.6" stroke="#333" stroke-width="1.0" fill="none" />
<polyline points="800.3,535.1 800.3,543.6" stroke="#888" stroke-width="0.6" fill="none" />
<polyline points="800.3,547.1 800.3,555.6" stroke="#888" stroke-width="0.6" fill="none" />
<polyline points="804.4,537.5 804.4,547.0" stroke="#333" stroke-width="1.5" fill="none" />
<polyline points="804.4,549.5 804.4,559.0" stroke="#333" stroke-width="1.5" fill="none" />
<polyline points="806.0,538.5 806.0,547.0" stroke="#888" stroke-width="0.6" fill="none" />
<polyline points="806.0,550.5 806.0,559.0" stroke="#888" stroke-width="0.6" fill="none" />
<polyline points="810.1,541.0 810.1,550.5" stroke="#333" stroke-width="1.0" fill="none" />
<polyline points="810.1,553.0 810.1,562.5" stroke="#333" stroke-width="1.0" fill="none" />
<polyline points="811.7,542.0 811.7,550.5" stroke="#888" stroke-width="0.6" fill="none" />
<polyline points="811.7,554.0 811.7,562.5" stroke="#888" stroke-width="0.6" fill="none" />
<polyline points="816.2,544.6 816.2,554.1" stroke="#333" stroke-width="1.0" fill="none" />
<polyline points="816.2,556.6 816.2,566.1" stroke="#333" stroke-width="1.0" fill="none" />
<polyline points="817.8,545.6 817.8,554.1" stroke="#888" stroke-width="0.6" fill="none" />
<polyline points="817.8,557.6 817.8,566.1" stroke="#888" stroke-width="0.6" fill="none" />
<polyline points="833.8,550.9 845.1,545.4" stroke="#333" stroke-width="1.3" fill="none" />
<polyline points="835.1,552.1 846.4,546.5" stroke="#333" stroke-width="1.3" fill="none" />
<polyline points="836.4,553.3 847.7,547.7" stroke="#333" stroke-width="1.3" fill="none" />
<polyline points="837.7,554.5 849.0,548.9" stroke="#333" stroke-width="1.3" fill="none" />
<polyline points="839.0,555.7 850.3,550.1" stroke="#333" stroke-width="1.3" fill="none" />
<polyline points="855.3,539.1 867.7,533.1" stroke="#333" stroke-width="1.3" fill="none" />
<polyline points="856.5,540.1 868.8,534.1" stroke="#333" stroke-width="1.3" fill="none" />
<polyline points="857.7,541.1 870.0,535.1" stroke="#333" stroke-width="1.3" fill="none" />
<polyline points="858.9,542.0 871.2,536.0" stroke="#333" stroke-width="1.3" fill="none" />
<ellipse cx="852.1" cy="544.2" rx="3.0" ry="2.0" stroke="#1a1a1a" stroke-width="1" fill="none"/>
<ellipse cx="844.6" cy="559.7" rx="1.5" ry="1.5" stroke="#1a1a1a" stroke-width="0.9" fill="none"/>
<ellipse cx="871.9" cy="545.3" rx="1.5" ry="1.5" stroke="#1a1a1a" stroke-width="0.9" fill="none"/>
<ellipse cx="871.9" cy="560.3" rx="1.5" ry="1.5" stroke="#1a1a1a" stroke-width="0.9" fill="none"/>
<ellipse cx="844.6" cy="575.3" rx="1.5" ry="1.5" stroke="#1a1a1a" stroke-width="0.9" fill="none"/>
<ellipse cx="828.5" cy="563.5" rx="8.3" ry="12.6" stroke="#1a1a1a" stroke-width="1" fill="#fff" transform="rotate(-22 828.5 563.5)"/>
<ellipse cx="827.5" cy="564.0" rx="6.3" ry="10.0" stroke="#1a1a1a" stroke-width="0.8" fill="none" transform="rotate(-22 827.5 564.0)"/>
<polyline points="822.5,555.0 832.0,571.0" stroke="#1a1a1a" stroke-width="1.1" fill="none" />
<polyline points="820.5,566.5 834.0,559.0" stroke="#1a1a1a" stroke-width="1.1" fill="none" />
<polyline points="814.5,567.8 827.0,562.0" stroke="#1a1a1a" stroke-width="1" fill="none" />
<polyline points="815.5,573.0 828.0,567.0" stroke="#1a1a1a" stroke-width="1" fill="none" />
<ellipse cx="815.0" cy="570.4" rx="2.2" ry="2.8" stroke="#1a1a1a" stroke-width="1" fill="#fff" transform="rotate(-20 815.0 570.4)"/>
<ellipse cx="783.4" cy="589.8" rx="16.6" ry="21.8" stroke="#1a1a1a" stroke-width="1" fill="#fff" transform="rotate(-19.4 783.4 589.8)"/>
<ellipse cx="781.8" cy="590.9" rx="16.6" ry="21.8" stroke="#1a1a1a" stroke-width="0.9" fill="#fff" transform="rotate(-19.4 781.8 590.9)"/>
<ellipse cx="780.2" cy="592.0" rx="16.6" ry="21.8" stroke="#1a1a1a" stroke-width="0.9" fill="#fff" transform="rotate(-19.4 780.2 592.0)"/>
<ellipse cx="778.2" cy="593.4" rx="16.6" ry="21.8" stroke="#1a1a1a" stroke-width="1" fill="#fff" transform="rotate(-19.4 778.2 593.4)"/>
<ellipse cx="777.7" cy="594.2" rx="12.0" ry="16.5" stroke="#1a1a1a" stroke-width="0.9" fill="none" transform="rotate(-19.4 777.7 594.2)"/>
<ellipse cx="777.2" cy="594.4" rx="11.0" ry="15.3" stroke="#1a1a1a" stroke-width="0.6" fill="none" transform="rotate(-19.4 777.2 594.4)"/>
<ellipse cx="780.0" cy="592.5" rx="1.7" ry="2.5" stroke="#1a1a1a" stroke-width="0.9" fill="none" transform="rotate(-19.4 780.0 592.5)"/>
<ellipse cx="616.8" cy="559.2" rx="7.8" ry="12.0" stroke="#1a1a1a" stroke-width="1" fill="#fff" transform="rotate(-20 616.8 559.2)"/>
<ellipse cx="615.1" cy="559.3" rx="7.8" ry="10.5" stroke="#1a1a1a" stroke-width="0.7" fill="#fff" transform="rotate(-20 615.1 559.3)"/>
<ellipse cx="613.5" cy="560.2" rx="7.8" ry="10.5" stroke="#1a1a1a" stroke-width="0.7" fill="#fff" transform="rotate(-20 613.5 560.2)"/>
<ellipse cx="611.9" cy="561.1" rx="7.8" ry="10.5" stroke="#1a1a1a" stroke-width="0.7" fill="#fff" transform="rotate(-20 611.9 561.1)"/>
<ellipse cx="610.2" cy="562.0" rx="7.8" ry="10.5" stroke="#1a1a1a" stroke-width="0.7" fill="#fff" transform="rotate(-20 610.2 562.0)"/>
<ellipse cx="608.0" cy="563.2" rx="7.8" ry="10.5" stroke="#1a1a1a" stroke-width="1" fill="#fff" transform="rotate(-20 608.0 563.2)"/>
<ellipse cx="607.8" cy="562.9" rx="3.7" ry="4.7" stroke="#1a1a1a" stroke-width="0.9" fill="none" transform="rotate(-20 607.8 562.9)"/>
<path d="M594,598.5 L682,630 Q702,640 697,655 Q694,666 684,663 L597,612 Q588,607 590,602 Q591,598 594,598.5 Z" stroke="#222" stroke-width="3.6" fill="none" />
<path d="M594,598.5 L682,630 Q702,640 697,655 Q694,666 684,663 L597,612 Q588,607 590,602 Q591,598 594,598.5 Z" stroke="#fff" stroke-width="1.8" fill="none" />
<path d="M594,598.5 L682,630 Q702,640 697,655 Q694,666 684,663 L597,612 Q588,607 590,602 Q591,598 594,598.5 Z" stroke="#888" stroke-width="0.5" fill="none" />
<path d="M649.5,581.5 L736,614 Q756,624 751,640 Q748,652 739,648 L648.5,595.5 Q642,590 645,585 Q647,581 649.5,581.5 Z" stroke="#222" stroke-width="3.6" fill="none" />
<path d="M649.5,581.5 L736,614 Q756,624 751,640 Q748,652 739,648 L648.5,595.5 Q642,590 645,585 Q647,581 649.5,581.5 Z" stroke="#fff" stroke-width="1.8" fill="none" />
<path d="M649.5,581.5 L736,614 Q756,624 751,640 Q748,652 739,648 L648.5,595.5 Q642,590 645,585 Q647,581 649.5,581.5 Z" stroke="#888" stroke-width="0.5" fill="none" />
<polyline points="621.5,712.0 629.5,706.5" stroke="#222" stroke-width="2.8" fill="none" />
<polyline points="621.5,712.0 629.5,706.5" stroke="#fff" stroke-width="1.2" fill="none" />
<polyline points="268.0,456.0 268.0,312.5 552.6,118.2 552.6,736.6 779.0,592.4" stroke="#808080" stroke-width="1" fill="none" stroke-dasharray="28.8 1.7 1.3 2.4" stroke-dashoffset="31.5"/>
<polyline points="830.5,87.0 830.5,591.0" stroke="#808080" stroke-width="1" fill="none" stroke-dasharray="28.8 1.7 1.3 2.4" stroke-dashoffset="0"/>
<polyline points="820.0,57.0 820.0,135.0" stroke="#808080" stroke-width="1" fill="none" stroke-dasharray="28.8 1.7 1.3 2.4" stroke-dashoffset="0"/>
<polyline points="986.7,159.0 986.7,255.0" stroke="#808080" stroke-width="1" fill="none" stroke-dasharray="28.8 1.7 1.3 2.4" stroke-dashoffset="0"/>
<polyline points="47.5,315.5 67.5,315.5 102.5,354.0" stroke="#666" stroke-width="0.9" fill="none"/>
<polyline points="195.0,297.5 215.0,297.5 242.5,332.5" stroke="#666" stroke-width="0.9" fill="none"/>
<polyline points="349.0,292.5 370.0,292.5 397.0,323.0" stroke="#666" stroke-width="0.9" fill="none"/>
<polyline points="422.5,280.2 442.3,280.2 460.4,293.9" stroke="#666" stroke-width="0.9" fill="none"/>
<polyline points="10.0,663.0 30.5,663.0 72.5,622.8" stroke="#666" stroke-width="0.9" fill="none"/>
<polyline points="80.0,681.5 101.0,681.5 126.0,645.0" stroke="#666" stroke-width="0.9" fill="none"/>
<polyline points="140.0,690.0 160.8,690.0 187.5,661.5" stroke="#666" stroke-width="0.9" fill="none"/>
<polyline points="755.4,699.7 734.5,699.7 699.5,662.8" stroke="#666" stroke-width="0.9" fill="none"/>
<polyline points="841.8,634.6 821.9,634.6 797.7,608.1" stroke="#666" stroke-width="0.9" fill="none"/>
<polyline points="931.0,587.0 901.2,587.0 862.0,566.5" stroke="#666" stroke-width="0.9" fill="none"/>
<polyline points="567.1,509.9 596.4,509.9 605.5,546.9" stroke="#666" stroke-width="0.9" fill="none"/>
<polyline points="911.7,113.0 881.9,113.0 858.8,142.5" stroke="#666" stroke-width="0.9" fill="none"/>
<polyline points="714.1,336.9 742.9,336.9 778.6,366.5" stroke="#666" stroke-width="0.9" fill="none"/>
<polyline points="761.7,530.0 788.3,515.6 763.9,499.6" stroke="#666" stroke-width="0.9" fill="none"/>
<polyline points="933.7,422.4 901.7,422.4 873.4,413.2" stroke="#666" stroke-width="0.9" fill="none"/>
<polyline points="925.8,368.9 896.8,368.9 867.3,359.0" stroke="#666" stroke-width="0.9" fill="none"/>
<polyline points="928.6,299.9 899.8,299.9 869.0,277.0" stroke="#666" stroke-width="0.9" fill="none"/>
<polyline points="1046.7,174.3 1017.5,174.3 991.3,163.2" stroke="#666" stroke-width="0.9" fill="none"/>
<polyline points="1046.7,216.6 1018.5,216.6 996.4,199.5" stroke="#666" stroke-width="0.9" fill="none"/>
<polyline points="1046.7,266.0 1018.5,266.0 992.4,250.8" stroke="#666" stroke-width="0.9" fill="none"/>
<polyline points="775.7,60.0 805.2,60.0 814.5,72.4" stroke="#666" stroke-width="0.9" fill="none"/>
<polyline points="775.7,98.9 806.0,98.9 816.2,102.3" stroke="#666" stroke-width="0.9" fill="none"/>
<polyline points="775.8,133.2 805.0,133.2 810.0,135.0" stroke="#666" stroke-width="0.9" fill="none"/>
<polyline points="916.8,35.0 887.8,35.0 835.0,98.9" stroke="#666" stroke-width="0.9" fill="none"/>
<polyline points="912.5,72.4 882.7,72.4 858.0,104.0" stroke="#666" stroke-width="0.9" fill="none"/>
<polyline points="911.5,152.0 879.2,152.0 835.0,178.5" stroke="#666" stroke-width="0.9" fill="none"/>
<polyline points="910.0,189.2 878.8,189.2 826.3,199.0" stroke="#666" stroke-width="0.9" fill="none"/>
<polyline points="910.0,223.8 878.8,223.8 832.2,235.8" stroke="#666" stroke-width="0.9" fill="none"/>
<polyline points="908.6,260.8 880.0,260.8 851.3,253.4" stroke="#666" stroke-width="0.9" fill="none"/>
<polyline points="749.5,100.0 720.0,100.0 698.8,151.2" stroke="#666" stroke-width="0.9" fill="none"/>
<polyline points="749.5,137.5 720.0,137.5 716.2,165.0" stroke="#666" stroke-width="0.9" fill="none"/>
<polyline points="707.5,219.2 738.8,219.2 762.5,210.0" stroke="#666" stroke-width="0.9" fill="none"/>
<polyline points="710.2,258.4 741.0,258.4 788.0,212.3" stroke="#666" stroke-width="0.9" fill="none"/>
<polyline points="713.2,295.4 744.0,295.4 813.0,253.4" stroke="#666" stroke-width="0.9" fill="none"/>
<polyline points="697.6,737.9 668.0,737.9 626.2,712.0" stroke="#666" stroke-width="0.9" fill="none"/>
<polyline points="687.0,148.5 814.3,222.6" stroke="#808080" stroke-width="1" fill="none" stroke-dasharray="28.8 1.7 1.3 2.4" stroke-dashoffset="0"/>
<polyline points="858.3,386.0 858.3,434.5" stroke="#808080" stroke-width="1" fill="none" stroke-dasharray="28.8 1.7 1.3 2.4" stroke-dashoffset="0"/>
<text x="48.2" y="303.9" transform="translate(48.2 303.9) scale(0.68 1) translate(-48.2 -303.9)">1</text>
<text x="195.0" y="286.4" transform="translate(195.0 286.4) scale(0.68 1) translate(-195.0 -286.4)">2</text>
<text x="349.5" y="282.4" transform="translate(349.5 282.4) scale(0.68 1) translate(-349.5 -282.4)">3</text>
<text x="423.6" y="268.1" transform="translate(423.6 268.1) scale(0.68 1) translate(-423.6 -268.1)">4</text>
<text x="9.5" y="650.9" transform="translate(9.5 650.9) scale(0.68 1) translate(-9.5 -650.9)">5</text>
<text x="80.5" y="669.9" transform="translate(80.5 669.9) scale(0.68 1) translate(-80.5 -669.9)">6</text>
<text x="140.5" y="677.9" transform="translate(140.5 677.9) scale(0.68 1) translate(-140.5 -677.9)">7</text>
<text x="747.5" y="687.1" transform="translate(747.5 687.1) scale(0.68 1) translate(-747.5 -687.1)">8</text>
<text x="834.2" y="621.9" transform="translate(834.2 621.9) scale(0.68 1) translate(-834.2 -621.9)">9</text>
<text x="914.4" y="574.5" transform="translate(914.4 574.5) scale(0.68 1) translate(-914.4 -574.5)">10</text>
<text x="569.5" y="499.4" transform="translate(569.5 499.4) scale(0.68 1) translate(-569.5 -499.4)">11</text>
<text x="894.1" y="109.9" transform="translate(894.1 109.9) scale(0.68 1) translate(-894.1 -109.9)">12</text>
<text x="715.3" y="325.0" transform="translate(715.3 325.0) scale(0.68 1) translate(-715.3 -325.0)">13</text>
<text x="741.2" y="530.6" transform="translate(741.2 530.6) scale(0.68 1) translate(-741.2 -530.6)">14</text>
<text x="917.2" y="410.5" transform="translate(917.2 410.5) scale(0.68 1) translate(-917.2 -410.5)">15</text>
<text x="909.3" y="357.0" transform="translate(909.3 357.0) scale(0.68 1) translate(-909.3 -357.0)">16</text>
<text x="911.9" y="288.1" transform="translate(911.9 288.1) scale(0.68 1) translate(-911.9 -288.1)">17</text>
<text x="1031.1" y="162.7" transform="translate(1031.1 162.7) scale(0.68 1) translate(-1031.1 -162.7)">18</text>
<text x="1031.1" y="204.4" transform="translate(1031.1 204.4) scale(0.68 1) translate(-1031.1 -204.4)">19</text>
<text x="1031.1" y="253.7" transform="translate(1031.1 253.7) scale(0.68 1) translate(-1031.1 -253.7)">20</text>
<text x="775.7" y="48.6" transform="translate(775.7 48.6) scale(0.68 1) translate(-775.7 -48.6)">21</text>
<text x="776.5" y="87.9" transform="translate(776.5 87.9) scale(0.68 1) translate(-776.5 -87.9)">22</text>
<text x="776.5" y="120.9" transform="translate(776.5 120.9) scale(0.68 1) translate(-776.5 -120.9)">23</text>
<text x="900.1" y="23.1" transform="translate(900.1 23.1) scale(0.68 1) translate(-900.1 -23.1)">24</text>
<text x="895.9" y="60.6" transform="translate(895.9 60.6) scale(0.68 1) translate(-895.9 -60.6)">25</text>
<text x="893.2" y="140.9" transform="translate(893.2 140.9) scale(0.68 1) translate(-893.2 -140.9)">26</text>
<text x="892.0" y="176.9" transform="translate(892.0 176.9) scale(0.68 1) translate(-892.0 -176.9)">27</text>
<text x="892.0" y="211.4" transform="translate(892.0 211.4) scale(0.68 1) translate(-892.0 -211.4)">28</text>
<text x="892.5" y="246.9" transform="translate(892.5 246.9) scale(0.68 1) translate(-892.5 -246.9)">29</text>
<text x="732.5" y="87.9" transform="translate(732.5 87.9) scale(0.68 1) translate(-732.5 -87.9)">30</text>
<text x="732.5" y="125.4" transform="translate(732.5 125.4) scale(0.68 1) translate(-732.5 -125.4)">31</text>
<text x="708.3" y="207.9" transform="translate(708.3 207.9) scale(0.68 1) translate(-708.3 -207.9)">32</text>
<text x="710.5" y="246.9" transform="translate(710.5 246.9) scale(0.68 1) translate(-710.5 -246.9)">33</text>
<text x="713.5" y="284.3" transform="translate(713.5 284.3) scale(0.68 1) translate(-713.5 -284.3)">34</text>
<text x="680.3" y="726.5" transform="translate(680.3 726.5) scale(0.68 1) translate(-680.3 -726.5)">35</text>
</svg>
</body></html>
